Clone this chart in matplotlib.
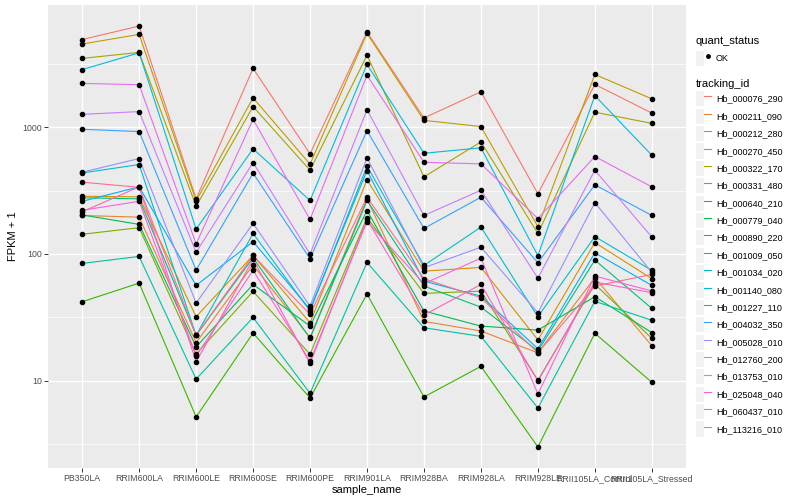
import numpy as np
import matplotlib
matplotlib.use("Agg")
import matplotlib.pyplot as plt
from matplotlib.lines import Line2D
from matplotlib.patches import Rectangle
from matplotlib.legend_handler import HandlerTuple

plt.rcParams['font.family'] = ['Liberation Sans', 'DejaVu Sans']

samples = ["PB350LA", "RRIM600LA", "RRIM600LE", "RRIM600SE", "RRIM600PE",
           "RRIM901LA", "RRIM928BA", "RRIM928LA", "RRIM928LE",
           "RRII105LA_Control", "RRII105LA_Stressed"]

tracking_ids = ["Hb_000076_290", "Hb_000211_090", "Hb_000212_280", "Hb_000270_450",
                "Hb_000322_170", "Hb_000331_480", "Hb_000640_210", "Hb_000779_040",
                "Hb_000890_220", "Hb_001009_050", "Hb_001034_020", "Hb_001140_080",
                "Hb_001227_110", "Hb_004032_350", "Hb_005028_010", "Hb_012760_200",
                "Hb_013753_010", "Hb_025048_040", "Hb_060437_010", "Hb_113216_010"]

# ggplot default hue palette for 20 levels
colors = ["#F8766D", "#EA8331", "#D89000", "#C09B00", "#A3A500", "#7CAE00", "#39B600",
          "#00BB4E", "#00BF7D", "#00C1A3", "#00BFC4", "#00BAE0", "#00B0F6", "#35A2FF",
          "#9590FF", "#C77CFF", "#E76BF3", "#FA62DB", "#FF62BC", "#FF6C91"]

# FPKM + 1, one list per gene, in sample order
hb_000076_290 = [4900, 6260, 272, 2900, 615, 5620, 1180, 1900, 298, 2170, 1290]
hb_000211_090 = [201, 195, 20.0, 81.9, 22.0, 272, 29.4, 24.7, 16.6, 65.0, 18.9]
hb_000212_280 = [285, 282, 32.0, 97.3, 28.7, 384, 73.2, 78.3, 21.0, 123, 63.8]
hb_000270_450 = [4520, 5380, 262, 1700, 510, 5480, 1130, 1010, 164, 2600, 1670]
hb_000322_170 = [3480, 3880, 238, 1450, 457, 3680, 405, 765, 145, 1310, 1070]
hb_000331_480 = [143, 161, 16.2, 50.7, 16.2, 193, 48.9, 50.9, 10.1, 57.8, 21.6]
hb_000640_210 = [42.0, 58.9, 5.19, 23.8, 7.32, 48.3, 7.46, 13.0, 3.01, 23.7, 9.73]
hb_000779_040 = [203, 171, 18.5, 57.5, 27.0, 220, 35.5, 27.0, 25.1, 46.0, 24.0]
hb_000890_220 = [277, 272, 22.8, 93.3, 21.6, 264, 55.8, 38.1, 17.2, 89.4, 37.2]
hb_001009_050 = [84.2, 95.6, 10.3, 31.6, 7.97, 85.7, 26.2, 22.4, 6.1, 42.3, 30.0]
hb_001034_020 = [435, 507, 22.8, 145, 35.5, 491, 81.2, 163, 32.0, 137, 74.2]
hb_001140_080 = [2840, 3850, 157, 674, 264, 3120, 622, 686, 97, 1770, 600]
hb_001227_110 = [260, 338, 56.5, 125, 36.6, 454, 61.1, 46.5, 17.9, 102, 56.5]
hb_004032_350 = [961, 922, 74.6, 433, 91.7, 938, 159, 280, 85.2, 351, 201]
hb_005028_010 = [441, 565, 41.0, 174, 38.8, 572, 77.9, 113, 34.4, 254, 71.5]
hb_012760_200 = [1260, 1325, 103, 525, 100, 1370, 201, 318, 64.5, 457, 136]
hb_013753_010 = [2210, 2160, 120, 1150, 187, 2560, 528, 513, 190, 586, 338]
hb_025048_040 = [221, 260, 15.7, 74.2, 14.3, 180, 58.3, 92.7, 7.87, 66.9, 51.1]
hb_060437_010 = [215, 338, 14.1, 90.5, 13.7, 187, 33.0, 57.5, 9.96, 60.0, 49.5]
hb_113216_010 = [368, 335, 22.8, 97.3, 33.4, 280, 63.8, 45.2, 16.6, 55.8, 69.0]

series = [hb_000076_290, hb_000211_090, hb_000212_280, hb_000270_450, hb_000322_170,
          hb_000331_480, hb_000640_210, hb_000779_040, hb_000890_220, hb_001009_050,
          hb_001034_020, hb_001140_080, hb_001227_110, hb_004032_350, hb_005028_010,
          hb_012760_200, hb_013753_010, hb_025048_040, hb_060437_010, hb_113216_010]

fig = plt.figure(figsize=(8, 5), dpi=100)
ax = fig.add_axes([48/800, 1 - 468/500, (686 - 48)/800, (468 - 5)/500])
ax.set_facecolor('#EBEBEB')

x = np.arange(len(samples))
for vals, col in zip(series, colors):
    ax.plot(x, vals, color=col, lw=0.8, zorder=3)
for vals in series:
    ax.plot(x, vals, ls='', marker='o', ms=3.0, color='black', zorder=4)

ax.set_yscale('log')
# ggplot style 5% expansion in log space
lo = np.log10(min(min(s) for s in series))
hi = np.log10(max(max(s) for s in series))
pad = (hi - lo) * 0.05
ax.set_ylim(10**(lo - pad), 10**(hi + pad))
ax.set_xlim(-0.6, len(samples) - 0.4)

ax.set_yticks([10, 100, 1000])
ax.set_yticklabels(['10', '100', '1000'])
ax.set_yticks([10**0.5, 10**1.5, 10**2.5, 10**3.5], minor=True)
ax.yaxis.set_minor_formatter(matplotlib.ticker.NullFormatter())
ax.set_xticks(x)
ax.set_xticklabels(samples)

ax.grid(True, which='major', color='white', lw=1.0, zorder=0)
ax.grid(True, which='minor', axis='y', color='white', lw=0.5, zorder=0)
ax.set_axisbelow(True)
for sp in ax.spines.values():
    sp.set_visible(False)
ax.tick_params(axis='both', which='major', length=3, width=0.7, color='#333333',
               labelsize=6.3, labelcolor='#4D4D4D', pad=1.5)
ax.tick_params(axis='y', which='minor', length=0)

ax.set_xlabel('sample_name', fontsize=8, labelpad=1)
ax.set_ylabel('FPKM + 1', fontsize=8, labelpad=3)

# legends with grey key backgrounds
def key_bg():
    return Rectangle((0, 0), 1, 1, facecolor='#F2F2F2', edgecolor='none')

hmap = {tuple: HandlerTuple(ndivide=None, pad=0)}
ok_handle = (key_bg(), Line2D([], [], ls='', marker='o', ms=2.5, color='black'))
leg1 = fig.legend([ok_handle], ['OK'], handler_map=hmap, loc='upper left',
                  bbox_to_anchor=(696/800, 1 - 36/500), frameon=False,
                  title='quant_status', fontsize=6.5, title_fontsize=8,
                  handlelength=1.7, handleheight=2.2, handletextpad=0.5,
                  borderpad=0, borderaxespad=0, alignment='left')

handles = [(key_bg(), Line2D([], [], color=c, lw=0.8)) for c in colors]
leg2 = fig.legend(handles, tracking_ids, handler_map=hmap, loc='upper left',
                  bbox_to_anchor=(696/800, 1 - 79/500), frameon=False,
                  title='tracking_id', fontsize=6.5, title_fontsize=8,
                  handlelength=1.7, handleheight=2.2, handletextpad=0.5,
                  labelspacing=0.25, borderpad=0, borderaxespad=0, alignment='left')

fig.savefig('out.png', dpi=100)
